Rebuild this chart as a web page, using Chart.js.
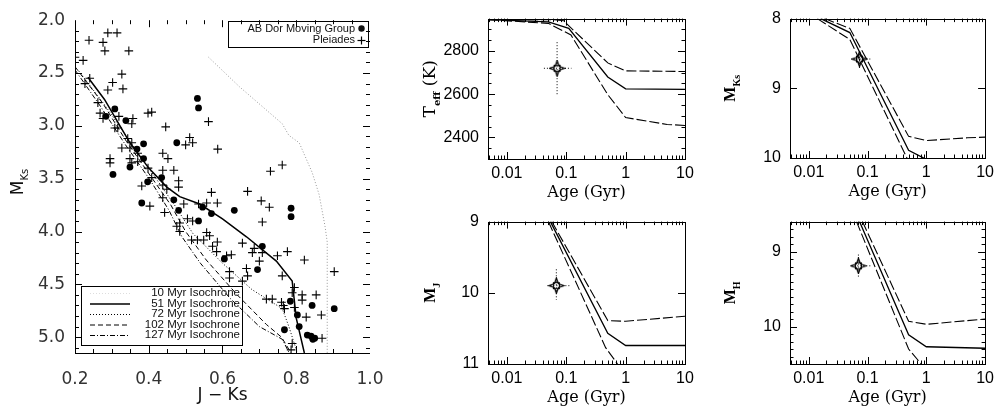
<!DOCTYPE html>
<html>
<head>
<meta charset="utf-8">
<script src="https://cdn.jsdelivr.net/npm/chart.js@4.4.1/dist/chart.umd.min.js"></script>
<style>
  body { margin: 0; background: #fff; width: 999px; height: 406px; position: relative; overflow: hidden; }
  canvas { position: absolute; }
</style>
</head>
<body>
<canvas id="cmd" width="400" height="406" style="left:0;top:0"></canvas>
<canvas id="teff" width="300" height="203" style="left:400px;top:0"></canvas>
<canvas id="mks" width="299" height="203" style="left:700px;top:0"></canvas>
<canvas id="mj" width="300" height="203" style="left:400px;top:203px"></canvas>
<canvas id="mh" width="299" height="203" style="left:700px;top:203px"></canvas>
<script>
// ---- left panel: colour-magnitude diagram ----
const pleiadesJK = [0.289,0.314,0.238,0.276,0.281,0.346,0.20,0.222,0.327,0.24,0.302,0.227,0.289,0.33,0.262,0.268,0.276,0.319,0.357,0.354,
  0.308,0.316,0.398,0.408,0.446,0.562,0.511,0.519,0.50,0.587,0.343,0.354,0.327,0.349,0.37,0.295,0.295,0.349,0.354,0.37,
  0.438,0.452,0.438,0.468,0.398,0.408,0.481,0.481,0.438,0.381,0.449,0.438,0.57,0.668,0.73,0.762,0.705,0.586,0.557,0.403,
  0.443,0.495,0.535,0.727,0.708,0.484,0.476,0.484,0.505,0.519,0.516,0.532,0.549,0.557,0.565,0.573,0.584,0.586,0.611,0.624,
  0.654,0.686,0.681,0.708,0.749,0.776,0.70,0.665,0.668,0.619,0.619,0.654,0.762,0.822,0.903,0.795,0.789,0.719,0.735,0.76,
  0.765,0.768,0.816,0.816,0.854,0.795,0.827,0.868,0.87,0.789,0.786];
const pleiadesMK = [2.12,2.12,2.19,2.21,2.29,2.29,2.35,2.38,2.51,2.55,2.59,2.60,2.66,2.65,2.78,2.88,2.93,2.91,2.93,2.98,
  3.02,3.02,2.88,2.87,3.01,2.96,3.11,3.16,3.18,3.22,3.12,3.16,3.21,3.21,3.26,3.31,3.35,3.31,3.35,3.34,
  3.26,3.31,3.42,3.42,3.40,3.49,3.52,3.58,3.56,3.57,3.60,3.68,3.63,3.62,3.43,3.37,3.71,3.73,3.73,3.76,
  3.82,3.74,3.74,3.77,3.91,3.92,3.95,4.00,3.88,3.90,4.08,4.08,4.08,4.01,4.04,4.14,4.19,4.10,4.23,4.22,
  4.11,4.16,4.20,4.20,4.23,4.19,4.28,4.35,4.42,4.38,4.44,4.47,4.42,4.27,4.38,4.53,4.58,4.64,4.64,4.67,
  4.70,4.73,4.60,4.65,4.60,4.72,4.81,4.79,5.01,5.06,5.12];

const abDorJK = [0.532,0.535,0.308,0.284,0.338,0.386,0.476,0.368,0.386,0.349,0.303,0.397,0.435,0.468,0.381,0.481,0.546,0.57,0.535,0.632,
  0.786,0.786,0.708,0.605,0.695,0.784,0.843,0.903,0.803,0.808,0.768,0.83,0.84,0.845,0.85];
const abDorMK = [2.74,2.83,2.84,2.91,2.95,3.17,3.16,3.22,3.31,3.39,3.46,3.53,3.49,3.70,3.73,3.80,3.77,3.83,3.90,3.80,
  3.78,3.86,4.14,4.26,4.36,4.66,4.70,4.73,4.79,4.90,4.93,4.98,4.99,5.02,5.01];

const iso10JK = [0.562,0.646,0.762,0.78,0.808,0.843,0.862,0.878,0.884,0.884];
const iso10MK = [2.35,2.63,2.98,3.09,3.16,3.44,3.65,3.95,4.10,5.15];
const iso51JK = [0.235,0.28,0.349,0.40,0.449,0.484,0.538,0.60,0.665,0.746,0.789,0.80,0.822];
const iso51MK = [2.54,2.75,3.16,3.40,3.58,3.67,3.74,3.88,4.05,4.28,4.47,4.82,5.15];
const iso72JK = [0.21,0.28,0.35,0.42,0.47,0.52,0.60,0.68,0.762,0.78,0.803];
const iso72MK = [2.48,2.80,3.15,3.50,3.75,4.02,4.30,4.55,4.73,4.90,5.15];
const iso102JK = [0.20,0.276,0.34,0.41,0.46,0.50,0.556,0.64,0.719,0.76,0.786];
const iso102MK = [2.44,2.79,3.15,3.50,3.75,4.00,4.27,4.60,4.88,5.00,5.15];
const iso127JK = [0.20,0.27,0.335,0.405,0.455,0.49,0.54,0.62,0.70,0.762,0.781];
const iso127MK = [2.47,2.82,3.17,3.52,3.80,4.05,4.30,4.63,4.90,5.02,5.15];
const isoNames = ['10 Myr Isochrone','51 Myr Isochrone','72 Myr Isochrone','102 Myr Isochrone','127 Myr Isochrone'];

// ---- right panels: evolution tracks vs age (Gyr) ----
const ageTickLabels = {0.01: '0.01', 0.1: '0.1', 1: '1', 10: '10'};

const teffHiAge = [0.005,0.06,0.09,0.5,1,10];
const teffHi = [2945,2945,2940,2745,2708,2705];
const teffMidAge = [0.005,0.05,0.11,0.5,1,10];
const teffMid = [2945,2935,2905,2680,2625,2622];
const teffLoAge = [0.005,0.05,0.12,0.5,1,5,10];
const teffLo = [2945,2928,2874,2598,2492,2460,2455];
const teffStar = [0.07, 2720];
const teffErrAge = [0.042, 0.122];
const teffErr = [2600, 2845];

const mksHiAge = [0.0186,0.05,0.5,1,5,10];
const mksHi = [8.0,8.14,9.69,9.75,9.71,9.70];
const mksMidAge = [0.016,0.05,0.5,1,10];
const mksMid = [8.0,8.2,9.89,10.02,10.05];
const mksLoAge = [0.014,0.05,0.5];
const mksLo = [8.0,8.3,10.05];
const mksStar = [0.073, 8.58];
const mksErrAge = [0.053, 0.12];
const mksErr = [8.51, 8.68];

const mjHiAge = [0.057,0.5,1,10];
const mjHi = [9.0,10.39,10.40,10.33];
const mjMidAge = [0.054,0.5,1,10];
const mjMid = [9.0,10.57,10.74,10.74];
const mjLoAge = [0.05,0.46,0.73];
const mjLo = [9.0,10.77,11.0];
const mjStar = [0.068, 9.9];
const mjErrAge = [0.048, 0.12];
const mjErr = [9.67, 10.1];

const mhHiAge = [0.082,0.5,1,10];
const mhHi = [8.6,9.93,9.97,9.90];
const mhMidAge = [0.073,0.5,1,10];
const mhMid = [8.6,10.11,10.27,10.29];
const mhLoAge = [0.065,0.5,0.82];
const mhLo = [8.6,10.30,10.5];
const mhStar = [0.07, 9.19];
const mhErrAge = [0.053, 0.12];
const mhErr = [9.04, 9.34];

function pts(xs, ys) {
  return xs.map((x, i) => ({x: x, y: ys[i]}));
}

function linTicks(min, max, step, major) {
  const out = [];
  const n = Math.round((max - min) / step);
  for (let i = 0; i <= n; i++) {
    const v = Number((min + i * step).toFixed(4));
    if (v > max + 1e-9) break;
    const r = v / major;
    out.push({value: v, major: Math.abs(r - Math.round(r)) < 1e-6});
  }
  return out;
}

function logTicks(min, max) {
  const out = [];
  for (let d = -3; d <= 1; d++) {
    for (let m = 1; m <= 9; m++) {
      const v = Number((m * Math.pow(10, d)).toPrecision(6));
      if (v >= min && v <= max) out.push({value: v, major: m === 1});
    }
  }
  return out;
}

// text drawn rotated, parts = [text, font, baseline shift]
function vtext(ctx, parts, cx, cy) {
  ctx.save();
  ctx.translate(cx, cy);
  ctx.rotate(-Math.PI / 2);
  ctx.textBaseline = 'middle';
  ctx.textAlign = 'left';
  let w = 0;
  parts.forEach(p => { ctx.font = p[1]; w += ctx.measureText(p[0]).width; });
  let x = -w / 2;
  parts.forEach(p => { ctx.font = p[1]; ctx.fillText(p[0], x, p[2]); x += ctx.measureText(p[0]).width; });
  ctx.restore();
}

function seg(ctx, x1, y1, x2, y2) {
  ctx.beginPath();
  ctx.moveTo(x1, y1);
  ctx.lineTo(x2, y2);
  ctx.stroke();
}

// inside tick marks on all four sides + frame + titles
const frame = {
  id: 'frame',
  afterDraw(chart, args, o) {
    const ctx = chart.ctx, a = chart.chartArea;
    const xs = chart.scales.x, ys = chart.scales.y;
    ctx.save();
    ctx.strokeStyle = '#000';
    ctx.fillStyle = '#000';
    ctx.lineWidth = 1;
    xs.ticks.forEach(t => {
      const p = Math.round(xs.getPixelForValue(t.value)) + 0.5;
      if (p < a.left + 1 || p > a.right - 1) return;
      const len = t.major ? o.major : o.minor;
      seg(ctx, p, a.bottom, p, a.bottom - len);
      seg(ctx, p, a.top, p, a.top + len);
    });
    ys.ticks.forEach(t => {
      const p = Math.round(ys.getPixelForValue(t.value)) + 0.5;
      if (p < a.top + 1 || p > a.bottom - 1) return;
      const len = t.major ? o.major : o.minor;
      seg(ctx, a.left, p, a.left + len, p);
      seg(ctx, a.right, p, a.right - len, p);
    });
    if (o.box) {
      ctx.strokeRect(Math.round(a.left) + 0.5, Math.round(a.top) + 0.5, Math.round(a.right - a.left), Math.round(a.bottom - a.top));
    } else {
      seg(ctx, Math.round(a.left) + 0.5, a.top, Math.round(a.left) + 0.5, a.bottom);
      seg(ctx, a.left, Math.round(a.bottom) + 0.5, a.right, Math.round(a.bottom) + 0.5);
    }
    if (o.draw) o.draw(ctx, a);
    ctx.restore();
  }
};

function dataset(d, style) {
  return Object.assign({data: d, showLine: true, pointRadius: 0, borderColor: '#000', borderWidth: 1, fill: false}, style);
}

// ---- left chart ----
function cmdExtras(ctx, a) {
  // y title M_Ks
  ctx.fillStyle = '#111';
  vtext(ctx, [['M', '17px "DejaVu Sans"', 0], ['Ks', '10px "DejaVu Sans"', 6]], 19, 182);
  // x title
  ctx.font = '17px "DejaVu Sans"';
  ctx.textAlign = 'center';
  ctx.textBaseline = 'middle';
  ctx.fillText('J \u2212 Ks', (a.left + a.right) / 2, 396);

  // legend: groups
  ctx.lineWidth = 1;
  ctx.strokeStyle = '#000';
  ctx.strokeRect(228.5, 21.5, 140, 26);
  ctx.font = '11px "Liberation Sans"';
  ctx.textAlign = 'right';
  ctx.fillText('AB Dor Moving Group', 355, 28.5);
  ctx.fillText('Pleiades', 355, 40);
  ctx.beginPath();
  ctx.arc(361.5, 28.5, 3.2, 0, Math.PI * 2);
  ctx.fill();
  ctx.lineWidth = 1.2;
  seg(ctx, 357.5, 40.5, 365.5, 40.5);
  seg(ctx, 361.5, 36.5, 361.5, 44.5);

  // legend: isochrones
  ctx.lineWidth = 1;
  ctx.strokeRect(81.5, 286.5, 161, 59);
  const rows = [293, 303.5, 314, 324.5, 335];
  const dashes = [[1, 2], [], [1, 2], [5, 3], [5, 2, 1, 2]];
  const cols = ['#ddd', '#000', '#000', '#000', '#000'];
  const widths = [1, 1.5, 1, 1, 1];
  isoNames.forEach((name, i) => {
    ctx.save();
    ctx.strokeStyle = cols[i];
    ctx.lineWidth = widths[i];
    ctx.setLineDash(dashes[i]);
    seg(ctx, 90, rows[i] + 0.5, 130, rows[i] + 0.5);
    ctx.restore();
    ctx.font = '11.5px "Liberation Sans"';
    ctx.textAlign = 'right';
    ctx.fillText(name, 240, rows[i]);
  });
}

new Chart(document.getElementById('cmd'), {
  type: 'scatter',
  data: {
    datasets: [
      {data: pts(abDorJK, abDorMK), pointStyle: 'circle', pointRadius: 3.4, backgroundColor: '#000', borderColor: '#000', borderWidth: 0},
      {data: pts(pleiadesJK, pleiadesMK), pointStyle: 'cross', pointRadius: 4.3, borderColor: '#000', borderWidth: 1.1},
      dataset(pts(iso10JK, iso10MK), {borderColor: '#999', borderDash: [1, 2]}),
      dataset(pts(iso51JK, iso51MK), {borderWidth: 1.5}),
      dataset(pts(iso72JK, iso72MK), {borderDash: [1, 2]}),
      dataset(pts(iso102JK, iso102MK), {borderDash: [5, 3]}),
      dataset(pts(iso127JK, iso127MK), {borderDash: [5, 2, 1, 2]})
    ]
  },
  options: {
    responsive: false,
    animation: false,
    layout: {padding: {left: 0, right: 30, top: 12, bottom: 0}},
    plugins: {
      legend: {display: false},
      tooltip: {enabled: false},
      frame: {major: 7, minor: 4, box: false, draw: cmdExtras}
    },
    scales: {
      x: {
        type: 'linear', min: 0.2, max: 1.0,
        afterBuildTicks: s => { s.ticks = linTicks(0.2, 1.0, 0.05, 0.2); },
        afterFit: s => { s.height = 53; },
        grid: {display: false, drawTicks: false},
        border: {display: false},
        ticks: {autoSkip: false, maxRotation: 0, padding: 16, color: '#333', font: {family: 'DejaVu Sans', size: 17},
          callback: (v, i, t) => t[i].major ? v.toFixed(1) : ''}
      },
      y: {
        type: 'linear', min: 2.0, max: 5.15, reverse: true,
        afterBuildTicks: s => { s.ticks = linTicks(2.0, 5.15, 0.1, 0.5); },
        afterFit: s => { s.width = 75; },
        grid: {display: false, drawTicks: false},
        border: {display: false},
        ticks: {autoSkip: false, padding: 10, color: '#333', font: {family: 'DejaVu Sans', size: 17},
          callback: (v, i, t) => t[i].major ? v.toFixed(1) : ''}
      }
    }
  },
  plugins: [frame]
});

// ---- star marker ----
const starImg = document.createElement('canvas');
starImg.width = 17;
starImg.height = 17;
(function () {
  const c = starImg.getContext('2d');
  c.strokeStyle = '#000';
  c.lineWidth = 1.3;
  const p = [[8.5, 1], [10.5, 6.5], [16, 8.5], [10.5, 10.5], [8.5, 16], [6.5, 10.5], [1, 8.5], [6.5, 6.5]];
  c.beginPath();
  p.forEach((q, i) => i ? c.lineTo(q[0], q[1]) : c.moveTo(q[0], q[1]));
  c.closePath();
  c.stroke();
  c.lineWidth = 1;
  c.strokeRect(5.5, 5.5, 6, 6);
})();

function panel(id, cfg) {
  const label = cfg.label;
  new Chart(document.getElementById(id), {
    type: 'scatter',
    data: {
      datasets: [
        {data: [{x: cfg.star[0], y: cfg.star[1]}], pointStyle: starImg, pointRadius: 8},
        dataset(pts(cfg.hiAge, cfg.hi), {borderDash: [10, 3], borderWidth: 1.1}),
        dataset(pts(cfg.midAge, cfg.mid), {borderWidth: 1.3}),
        dataset(pts(cfg.loAge, cfg.lo), {borderDash: [10, 3], borderWidth: 1.1}),
        dataset([{x: cfg.star[0], y: cfg.err[0]}, {x: cfg.star[0], y: cfg.err[1]}], {borderDash: [1, 2]}),
        dataset([{x: cfg.errAge[0], y: cfg.star[1]}, {x: cfg.errAge[1], y: cfg.star[1]}], {borderDash: [1, 2]})
      ]
    },
    options: {
      responsive: false,
      animation: false,
      layout: {padding: {left: 0, right: cfg.padRight, top: cfg.padTop, bottom: 0}},
      plugins: {
        legend: {display: false},
        tooltip: {enabled: false},
        frame: {major: 7, minor: 3.5, box: true, draw: (ctx, a) => {
          ctx.fillStyle = '#000';
          vtext(ctx, label, 31, (a.top + a.bottom) / 2);
          ctx.font = '16px "DejaVu Serif"';
          ctx.textAlign = 'center';
          ctx.textBaseline = 'middle';
          ctx.fillText('Age (Gyr)', (a.left + a.right) / 2, a.bottom + 34);
        }}
      },
      scales: {
        x: {
          type: 'logarithmic', min: 0.0048, max: 10,
          afterBuildTicks: s => { s.ticks = logTicks(0.0048, 10); },
          afterFit: s => { s.height = cfg.xHeight; },
          grid: {display: false, drawTicks: false},
          border: {display: false},
          ticks: {autoSkip: false, maxRotation: 0, padding: 5, color: '#000', font: {family: 'Liberation Sans', size: 16},
            callback: (v, i, t) => t[i].major ? (ageTickLabels[v] || '') : ''}
        },
        y: {
          type: 'linear', min: cfg.yMin, max: cfg.yMax, reverse: cfg.reverse,
          afterBuildTicks: s => { s.ticks = linTicks(cfg.yMin, cfg.yMax, cfg.yStep, cfg.yMajor); },
          afterFit: s => { s.width = cfg.yWidth; },
          grid: {display: false, drawTicks: false},
          border: {display: false},
          ticks: {autoSkip: false, padding: 9, color: '#000', font: {family: 'Liberation Sans', size: 16},
            callback: (v, i, t) => t[i].major ? String(v) : ''}
        }
      }
    },
    plugins: [frame]
  });
}

const serifB = 'bold 16px "Liberation Serif"';
const serifS = 'bold 10px "Liberation Serif"';

panel('teff', {
  hiAge: teffHiAge, hi: teffHi, midAge: teffMidAge, mid: teffMid, loAge: teffLoAge, lo: teffLo,
  star: teffStar, err: teffErr, errAge: teffErrAge,
  yMin: 2300, yMax: 2950, yStep: 50, yMajor: 200, reverse: false,
  yWidth: 88, padRight: 15, padTop: 18, xHeight: 44,
  label: [['T', '17px "DejaVu Serif"', 0], ['eff', 'bold 10px "DejaVu Serif"', 6], [' (K)', '17px "DejaVu Serif"', 0]]
});
panel('mks', {
  hiAge: mksHiAge, hi: mksHi, midAge: mksMidAge, mid: mksMid, loAge: mksLoAge, lo: mksLo,
  star: mksStar, err: mksErr, errAge: mksErrAge,
  yMin: 8, yMax: 10, yStep: 1, yMajor: 1, reverse: true,
  yWidth: 90, padRight: 12, padTop: 17, xHeight: 45,
  label: [['M', serifB, 0], ['Ks', serifS, 6]]
});
panel('mj', {
  hiAge: mjHiAge, hi: mjHi, midAge: mjMidAge, mid: mjMid, loAge: mjLoAge, lo: mjLo,
  star: mjStar, err: mjErr, errAge: mjErrAge,
  yMin: 9, yMax: 11, yStep: 1, yMajor: 1, reverse: true,
  yWidth: 88, padRight: 15, padTop: 17, xHeight: 42,
  label: [['M', serifB, 0], ['J', serifS, 6]]
});
panel('mh', {
  hiAge: mhHiAge, hi: mhHi, midAge: mhMidAge, mid: mhMid, loAge: mhLoAge, lo: mhLo,
  star: mhStar, err: mhErr, errAge: mhErrAge,
  yMin: 8.6, yMax: 10.5, yStep: 0.1, yMajor: 1, reverse: true,
  yWidth: 90, padRight: 12, padTop: 17, xHeight: 42,
  label: [['M', serifB, 0], ['H', serifS, 6]]
});
</script>
</body>
</html>
